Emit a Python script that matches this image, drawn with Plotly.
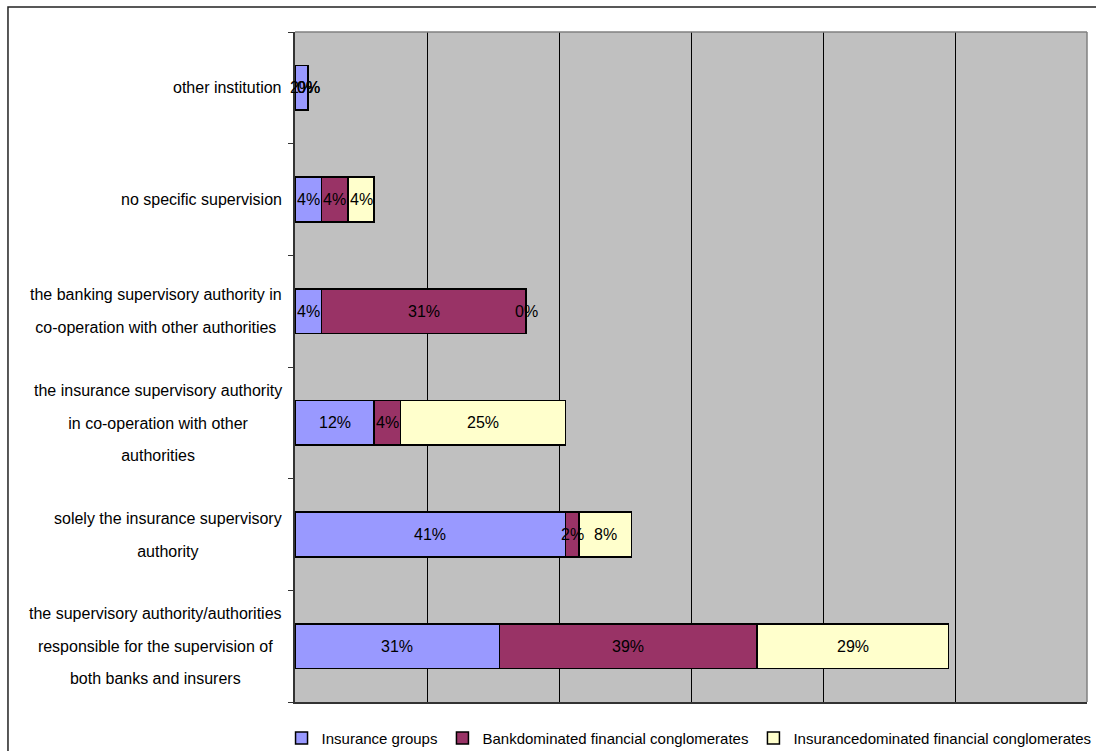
import plotly.graph_objects as go

# Categories from bottom to top (first category sits at the bottom of the axis)
categories = [
    "the supervisory authority/authorities\nresponsible for the supervision of\nboth banks and insurers",
    "solely the insurance supervisory\nauthority",
    "the insurance supervisory authority\nin co-operation with other\nauthorities",
    "the banking supervisory authority in\nco-operation with other authorities",
    "no specific supervision",
    "other institution",
]

series_names = [
    "Insurance groups",
    "Bankdominated financial conglomerates",
    "Insurancedominated financial conglomerates",
]
insurance_groups = [31, 41, 12, 4, 4, 2]
bank_dominated = [39, 2, 4, 31, 4, 0]
insurance_dominated = [29, 8, 25, 0, 4, 0]

colors = ["#9999FF", "#993366", "#FFFFCC"]
FONT = "Liberation Sans, Arial, sans-serif"
FS = 15

fig = go.Figure()
all_series = [insurance_groups, bank_dominated, insurance_dominated]
for name, vals, col in zip(series_names, all_series, colors):
    fig.add_trace(go.Bar(
        y=categories, x=vals, name=name, orientation="h",
        marker=dict(color=col, line=dict(color="#000000", width=1.5)),
    ))

# value labels centred on each segment
annotations = []
base = [0] * len(categories)
for vals in all_series:
    for i, v in enumerate(vals):
        annotations.append(dict(
            x=base[i] + v / 2, y=categories[i], xref="x", yref="y",
            text=f"{v}%", showarrow=False,
            font=dict(family=FONT, size=FS + 1, color="#000000"),
        ))
        base[i] += v

# category labels: wrapped and centred, with generous line spacing
for cat in categories:
    lines = cat.split("\n")
    txt = "<br>".join(f'<span style="font-size:{FS + 1}px">{ln}</span>' for ln in lines)
    annotations.append(dict(
        x=0, y=cat, xref="paper", yref="y", xanchor="right", yanchor="middle",
        xshift=-11, text=txt, showarrow=False, align="center",
        font=dict(family=FONT, size=25, color="#000000"),
    ))

fig.update_layout(
    width=1096, height=751,
    margin=dict(l=295, r=9, t=32, b=49, pad=0, autoexpand=False),
    paper_bgcolor="#FFFFFF", plot_bgcolor="#C0C0C0",
    barmode="stack", bargap=0.6,
    showlegend=True,
    legend=dict(
        orientation="h", x=-0.017, xanchor="left", y=-0.054, yanchor="middle",
        traceorder="normal",
        font=dict(family=FONT, size=FS, color="#000000"),
        itemwidth=30, tracegroupgap=0, bgcolor="rgba(0,0,0,0)",
    ),
    font=dict(family=FONT, size=FS, color="#000000"),
    xaxis=dict(
        range=[0, 120], dtick=20, showticklabels=False, ticks="",
        showgrid=True, gridcolor="#000000", gridwidth=1,
        zeroline=False, showline=True, linecolor="#333333", linewidth=1.5,
        mirror=False, fixedrange=True,
    ),
    yaxis=dict(
        type="category", categoryorder="array", categoryarray=categories,
        showticklabels=False, ticks="outside", ticklen=5, tickcolor="#333333",
        tickson="boundaries", showgrid=False, zeroline=False,
        showline=True, linecolor="#333333", linewidth=1.5, fixedrange=True,
    ),
    annotations=annotations,
    shapes=[
        # top and right edge of the plot area
        dict(type="line", xref="paper", yref="paper", x0=0, x1=1, y0=1, y1=1,
             line=dict(color="#808080", width=1.5)),
        dict(type="line", xref="paper", yref="paper", x0=1, x1=1, y0=0, y1=1,
             line=dict(color="#808080", width=1.5)),
        # chart area frame
        dict(type="rect", xref="paper", yref="paper", x0=-0.3624, x1=1.05,
             y0=-0.2, y1=1.0373, line=dict(color="#222222", width=1.5),
             fillcolor="rgba(0,0,0,0)", layer="below"),
    ],
)

fig.write_html("out.html")
